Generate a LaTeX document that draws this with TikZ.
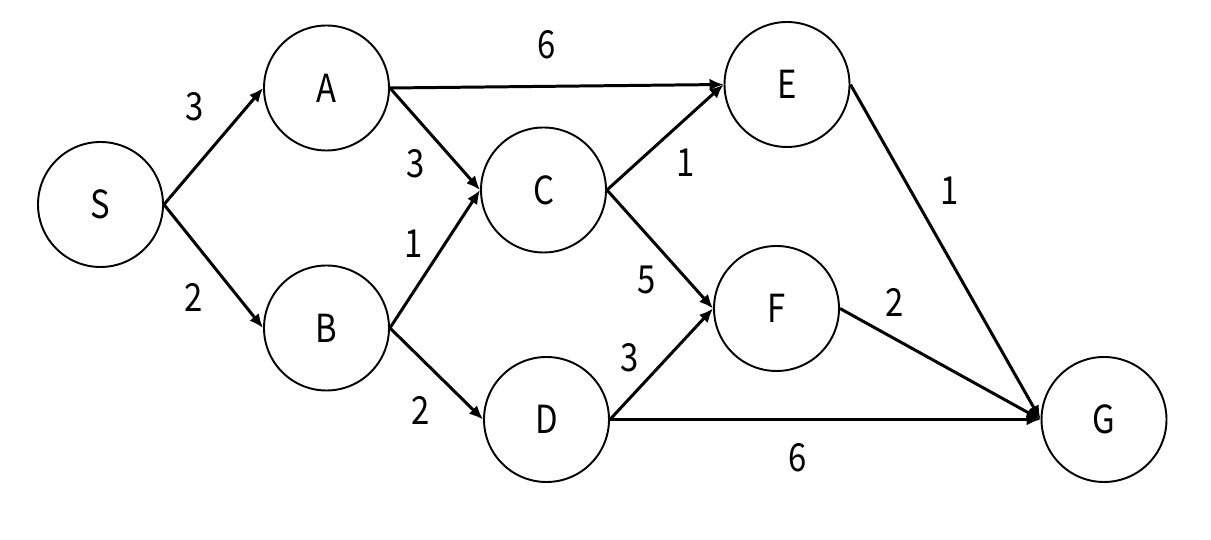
\documentclass[tikz,border=0pt]{standalone}
\usepackage{fontspec}
\setmainfont{Noto Sans CJK JP}[FakeStretch=0.85]
\usetikzlibrary{arrows.meta,positioning}

\begin{document}
\begin{tikzpicture}[>={Latex[length=0.28cm,width=0.24cm]},
  vertex/.style={draw, circle, line width=1.1pt, minimum size=2.5cm, inner sep=0pt, font=\fontsize{22}{26}\selectfont},
  wt/.style={inner sep=0pt, font=\fontsize{22}{26}\selectfont},
  edge/.style={->, line width=1.7pt}]
  \useasboundingbox (0,0) rectangle (24.22,10.8);

  % Define vertices
  \node [vertex] (S) at (2.01,6.71) {S};
  \node [vertex] (A) at (6.53,9.04) {A};
  \node [vertex] (B) at (6.53,4.24) {B};
  \node [vertex] (C) at (10.87,7.0) {C};
  \node [vertex] (D) at (10.93,2.41) {D};
  \node [vertex] (E) at (15.74,9.11) {E};
  \node [vertex] (F) at (15.53,4.63) {F};
  \node [vertex] (G) at (22.08,2.41) {G};

  % Connect vertices with weighted arrows
  \draw [edge] (S.east) -- node[wt, pos=0.6, above left=0.24cm and 0.36cm] (wSA) {3} (A.west);
  \draw [edge] (S.east) -- node[wt, pos=0.56, below left=0.16cm and 0.3cm] (wSB) {2} (B.west);
  \draw [edge] (A.east) -- node[wt, pos=0.47, above=0.52cm] (wAE) {6} (E.west);
  \draw [edge] (A.east) -- node[wt, pos=0.53, below left=0.12cm and 0.23cm] (wAC) {3} (C.west);
  \draw [edge] (B.east) -- node[wt, pos=0.5, above left=0cm and 0.21cm] (wBC) {1} (C.west);
  \draw [edge] (B.east) -- node[wt, pos=0.6, below left=0.25cm and 0.3cm] (wBD) {2} (D.west);
  \draw [edge] (C.east) -- node[wt, pos=0.49, below right=0.19cm and 0.21cm] (wCE) {1} (E.west);
  \draw [edge] (C.east) -- node[wt, pos=0.58, below left=0.11cm and 0.22cm] (wCF) {5} (F.west);
  \draw [edge] (D.east) -- node[wt, pos=0.38, above left=0.08cm and 0.17cm] (wDF) {3} (F.west);
  \draw [edge] (D.east) -- node[wt, pos=0.436, below=0.45cm] (wDG) {6} (G.west);
  \draw [edge] (E.east) -- node[wt, pos=0.37, above right=0.05cm and 0.37cm] (wEG) {1} (G.west);
  \draw [edge] (F.east) -- node[wt, pos=0.2, above right=0.25cm and 0.08cm] (wFG) {2} (G.west);
\end{tikzpicture}
\end{document}
